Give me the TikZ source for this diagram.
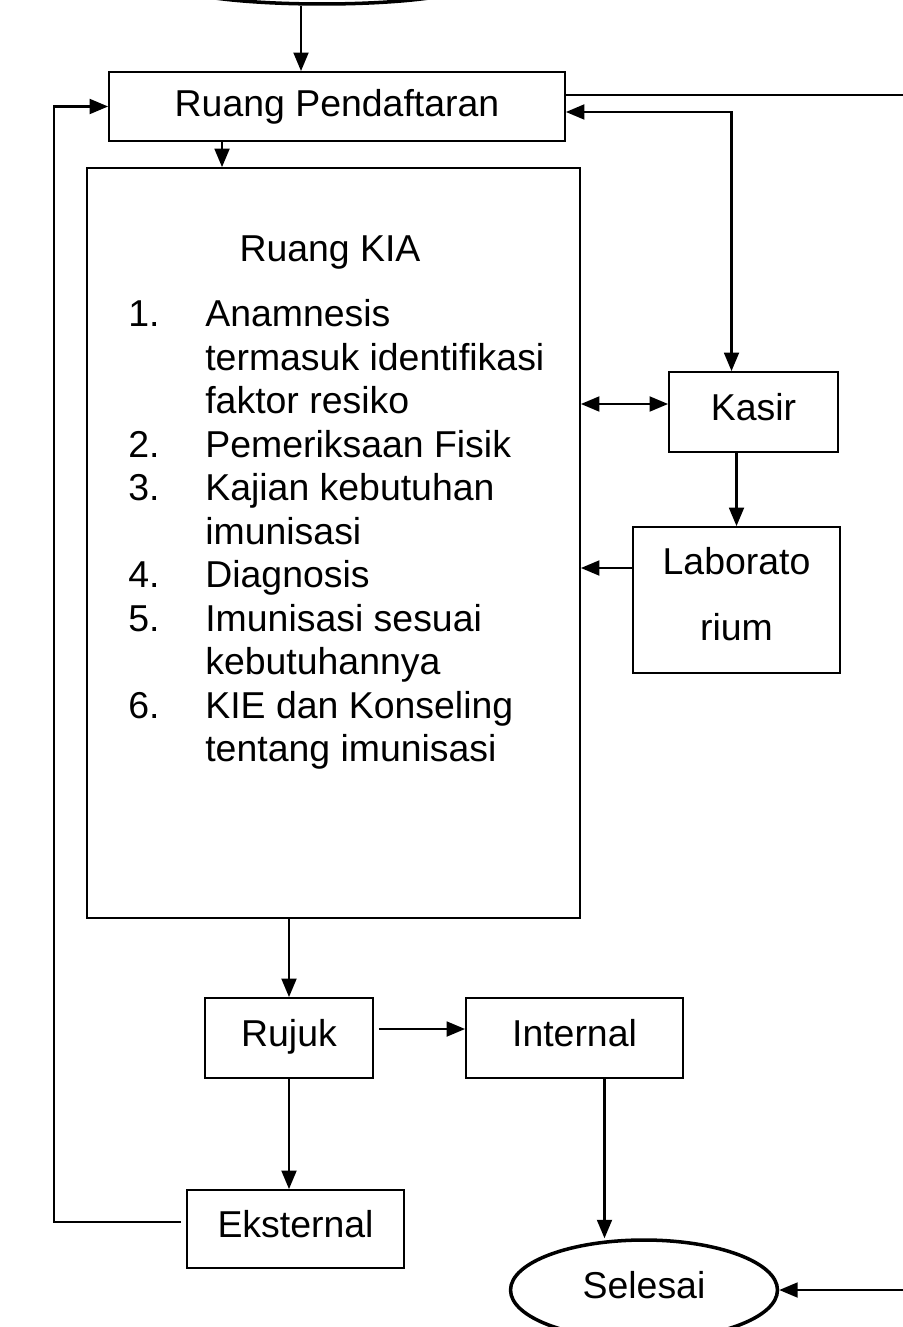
\documentclass[tikz,border=0pt]{standalone}
\usepackage{fontspec}
\setmainfont{Liberation Sans}
\usetikzlibrary{shapes.geometric,arrows.meta,positioning,calc}

\begin{document}
\begin{tikzpicture}[
    x=0.02cm, y=-0.02cm, >={Triangle[length=10.5pt,width=8.5pt]},
    font=\fontsize{21.3pt}{24.75pt}\selectfont,
    bx/.style={rectangle, draw, line width=1.1pt, align=center, inner sep=0pt},
    tx/.style={text height=16pt, text depth=6.4pt},
    ov/.style={ellipse, draw, line width=2pt, inner sep=0pt},
    arr/.style={->, line width=1.2pt}
]
\useasboundingbox (0,0) rectangle (902,1327);
\node[ov, minimum width=6cm, minimum height=0.8cm] (mulai) at (322,-16) {};
\node[bx, minimum width=9.12cm, minimum height=1.38cm] (rp) at (337,106.5) {Ruang Pendaftaran};
\node[bx, minimum width=9.86cm, minimum height=15cm] (kia) at (333.5,543) {};
\node[anchor=base] (kiatitle) at (330,262) {Ruang KIA};
\node[anchor=base west, inner sep=0pt] (kialist) at (128,327) {%
\begin{tabular}[t]{@{}p{1.54cm}@{}l@{}}
1. & Anamnesis\\
   & termasuk identifikasi\\
   & faktor resiko\\
2. & Pemeriksaan Fisik\\
3. & Kajian kebutuhan\\
   & imunisasi\\
4. & Diagnosis\\
5. & Imunisasi sesuai\\
   & kebutuhannya\\
6. & KIE dan Konseling\\
   & tentang imunisasi
\end{tabular}};
\node[bx, tx, minimum width=3.38cm, minimum height=1.6cm] (kasir) at (753.5,412) {Kasir};
\node[bx, minimum width=4.14cm, minimum height=2.92cm] (lab) at (736.5,600) {Laborato\\[0.45cm]rium\strut};
\node[bx, tx, minimum width=3.36cm, minimum height=1.6cm] (rujuk) at (289,1038) {Rujuk};
\node[bx, tx, minimum width=4.34cm, minimum height=1.6cm] (internal) at (574.5,1038) {Internal};
\node[bx, tx, minimum width=4.34cm, minimum height=1.56cm] (eksternal) at (295.5,1229) {Eksternal};
\node[ov, tx, minimum width=5.34cm, minimum height=2cm] (selesai) at (644,1290) {Selesai};

\coordinate (kk) at ([yshift=0.16cm]kasir.west);
\coordinate (lk) at ([yshift=0.64cm]lab.west);

\draw[arr] ([xshift=-0.42cm]mulai.south) -- ([xshift=-0.42cm]mulai.south |- rp.north);
\draw[arr] ([xshift=-2.3cm]rp.south) -- ([xshift=-2.3cm]rp.south |- kia.north);
\draw[arr, <->] ([yshift=-0.11cm]rp.east) -| ([xshift=-0.44cm]kasir.north);
\draw[arr] ([yshift=0.23cm]rp.east) -- ++(8cm,0) |- (selesai.east);
\draw[arr, <->] (kia.east |- kk) -- (kk);
\draw[arr] (kasir.south -| lab.north) -- (lab.north);
\draw[arr] (lk) -- (lk -| kia.east);
\draw[arr] (kia.south -| rujuk.north) -- (rujuk.north);
\draw[arr] ([shift={(0.1cm,0.18cm)}]rujuk.east) -- ([yshift=0.18cm]internal.west);
\draw[arr] ([xshift=0.6cm]internal.south) -- ([xshift=0.6cm]internal.south |- selesai.north);
\draw[arr] (rujuk.south) -- (rujuk.south |- eksternal.north);
\draw[arr] ([shift={(-0.1cm,0.14cm)}]eksternal.west) -- ++(-2.54cm,0) |- (rp.west);
\end{tikzpicture}
\end{document}
